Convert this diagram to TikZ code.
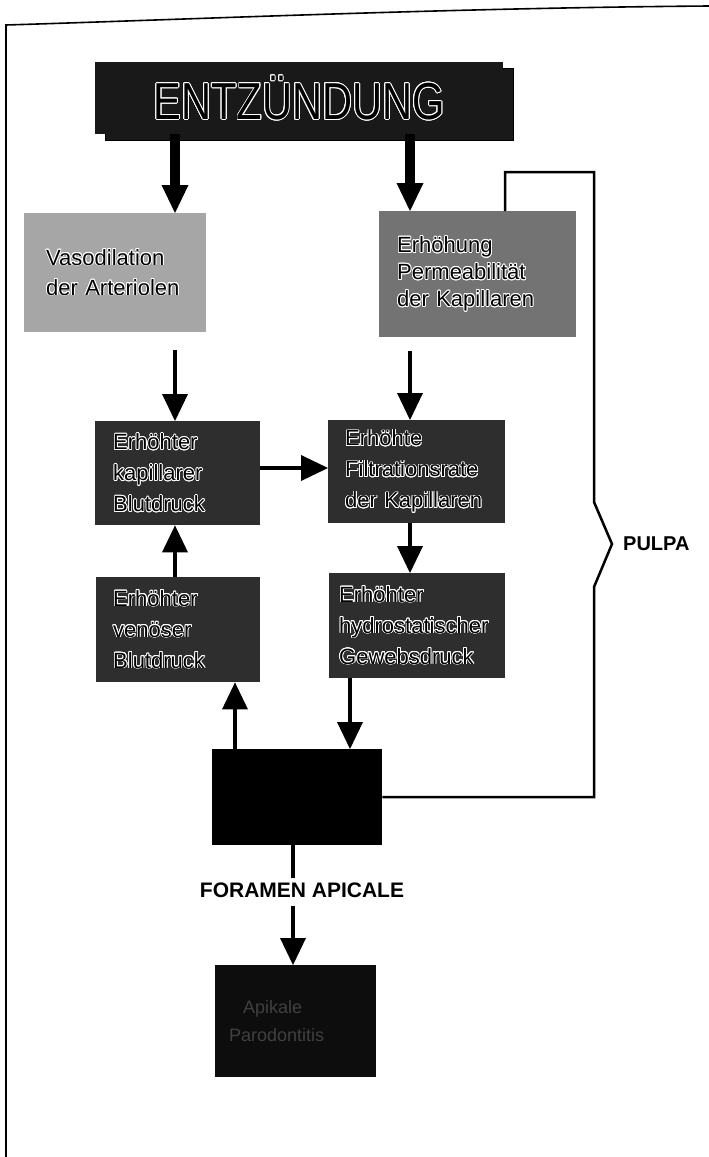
\documentclass[tikz,border=0pt]{standalone}
\usepackage{fontspec}
\setmainfont{Liberation Sans}
\newfontfamily\entzfont[FakeStretch=0.8]{Liberation Sans}
\usepackage{contour}
\contourlength{0.8pt}
\contournumber{16}
\newcommand\cw[1]{\contour{white}{#1}}
\usetikzlibrary{arrows.meta,shadows}
\begin{document}
\begin{tikzpicture}[x=1pt,y=-1pt,
  box/.style={anchor=north west, align=left, inner ysep=0pt, text=black,
    font=\fontsize{22}{31}\selectfont},
  darkbox/.style={box, fill=black!82},
  bigarrow/.style={line width=10pt, -{Triangle[length=28pt,width=27pt,line width=0pt]}},
  thinarrow/.style={line width=4pt, -{Triangle[length=27pt,width=26pt,line width=0pt]}},
  stemline/.style={line width=4pt},
  pulpaline/.style={line width=2.5pt, line join=miter},
  labeltext/.style={font=\bfseries\fontsize{21}{21}\selectfont, inner sep=2pt}
]
\useasboundingbox (0,0) rectangle (709,1157);
% frame
\draw[line width=1.6pt] (6,1157) -- (6,25) .. controls (200,19) and (450,8) .. (709,6);

% column coordinates
\coordinate (cL) at (175,0);
\coordinate (cR) at (410,0);
\coordinate (cG) at (350,0);
\coordinate (cV) at (235,0);
\coordinate (cF) at (293,0);
\coordinate (cP) at (505,0);
\coordinate (yk) at (0,468);

% title
\node[anchor=north west, fill=black!90, minimum width=408pt, minimum height=72pt,
  copy shadow={shadow xshift=10pt, shadow yshift=-6pt, fill=black!90}, inner sep=0pt,
  font=\entzfont\fontsize{52}{52}\selectfont] (entz) at (95,62) {\cw{ENTZÜNDUNG}};

% boxes
\node[box, fill=black!35, inner xsep=22pt, text width=138pt, minimum height=119pt,
  font=\fontsize{22}{30}\selectfont] (vaso) at (24,213)
  {\cw{Vasodilation}\\\cw{der Arteriolen}};
\node[box, fill=black!55, inner xsep=18pt, text width=161pt, minimum height=126pt,
  font=\fontsize{22}{27}\selectfont] (erh) at (379,211)
  {\cw{Erhöhung}\\\cw{Permeabilität}\\\cw{der Kapillaren}};
\node[darkbox, inner xsep=18pt, text width=129pt, minimum height=104pt] (kap) at (95,421)
  {\cw{Erhöhter}\\\cw{kapillarer}\\\cw{Blutdruck}};
\node[darkbox, inner xsep=17pt, text width=143pt, minimum height=103pt] (filt) at (328,420)
  {\cw{Erhöhte}\\\cw{Filtrationsrate}\\\cw{der Kapillaren}};
\node[darkbox, inner xsep=17pt, text width=130pt, minimum height=105pt] (ven) at (96,577)
  {\cw{Erhöhter}\\\cw{venöser}\\\cw{Blutdruck}};
\node[darkbox, inner xsep=10pt, text width=156pt, minimum height=105pt] (gew) at (329,573)
  {\cw{Erhöhter}\\\cw{hydrostatischer}\\\cw{Gewebsdruck}};
\node[anchor=north west, fill=black, minimum width=170pt, minimum height=96pt, inner sep=0pt] (blk) at (212,749) {};
\node[box, fill=black!95, inner xsep=14pt, text width=133pt, minimum height=112pt,
  text=black!75, font=\fontsize{18}{28}\selectfont] (bot) at (215,965)
  {\hspace*{14pt}Apikale\\Parodontitis};

% labels
\node[labeltext] (foramen) at (302,890) {FORAMEN APICALE};
\node[labeltext, font=\bfseries\fontsize{20}{20}\selectfont, anchor=west] (pulpa) at (621,544) {PULPA};

% arrows
\draw[bigarrow] (entz.south -| cL) -- (vaso.north -| cL);
\draw[bigarrow] (entz.south -| cR) -- (erh.north -| cR);
\draw[thinarrow, shorten <=18pt] (vaso.south -| cL) -- (kap.north -| cL);
\draw[thinarrow, shorten <=14pt] (erh.south -| cR) -- (filt.north -| cR);
\draw[thinarrow] (kap.east |- yk) -- (filt.west |- yk);
\draw[thinarrow] (filt.south -| cR) -- (gew.north -| cR);
\draw[thinarrow] (ven.north -| cL) -- (kap.south -| cL);
\draw[thinarrow] (gew.south -| cG) -- (blk.north -| cG);
\draw[thinarrow] (blk.north -| cV) -- (ven.south -| cV);
\draw[stemline, shorten >=2pt] (blk.south -| cF) -- (foramen.north -| cF);
\draw[thinarrow, shorten <=6pt] (foramen.south -| cF) -- (bot.north -| cF);

% pulpa bracket
\coordinate (b1) at (594,172);
\coordinate (b2) at (594,502);
\coordinate (b3) at (612,544);
\coordinate (b4) at (594,587);
\draw[pulpaline] (erh.north -| cP) |- (b1) -- (b2) -- (b3) -- (b4) |- (blk.east);
\end{tikzpicture}
\end{document}
